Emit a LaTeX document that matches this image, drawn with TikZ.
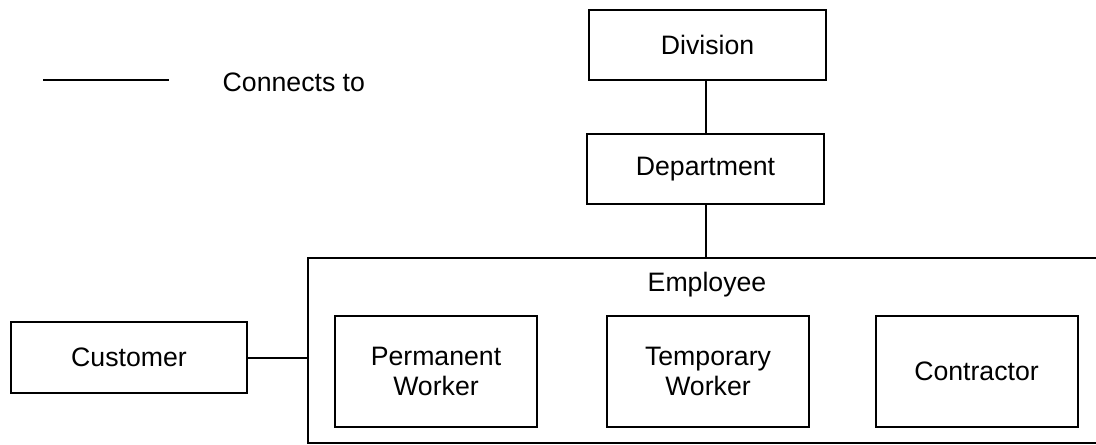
\documentclass[tikz,border=0pt]{standalone}
\usepackage{fontspec}
\setmainfont{Liberation Sans}
\begin{document}
\begin{tikzpicture}[x=0.75pt,y=-0.75pt,
  every node/.style={font=\fontsize{20}{23}\selectfont},
  entity/.style={draw,line width=1.5pt,rectangle,inner sep=0pt,align=center},
  link/.style={line width=1.5pt}]
\useasboundingbox (0,0) rectangle (1096,444);
\clip (0,0) rectangle (1096,444);

% legend
\coordinate (legA) at (43,80);
\coordinate (legB) at (169,80);
\draw[link] (legA) -- (legB);
\node[anchor=west] (legText) at (218,82) {Connects to};

% hierarchy
\node[entity,minimum width=237*0.75pt,minimum height=70*0.75pt] (division) at (707.5,45) {Division};
\node[entity,minimum width=237*0.75pt,minimum height=70*0.75pt] (department) at (705.5,169) {Department};

% employee group (open to the right)
\node[entity,minimum width=802*0.75pt,minimum height=185*0.75pt] (employee) at (709,350.5) {};
\node (employeeLabel) at (707,285) {Employee};

\node[entity,minimum width=202*0.75pt,minimum height=111*0.75pt] (permanent) at (436,371.5) {Permanent\\Worker};
\node[entity,minimum width=202*0.75pt,minimum height=111*0.75pt] (temporary) at (708,371.5) {Temporary\\Worker};
\node[entity,minimum width=202*0.75pt,minimum height=111*0.75pt] (contractor) at (976.5,371.5) {Contractor};

\node[entity,minimum width=236*0.75pt,minimum height=71*0.75pt] (customer) at (129,357.5) {Customer};

% connectors
\draw[link] (department.north) -- (department.north |- division.south);
\draw[link] (department.south) -- (department.south |- employee.north);
\draw[link] (customer.east) -- (customer.east -| employee.west);
\end{tikzpicture}
\end{document}
